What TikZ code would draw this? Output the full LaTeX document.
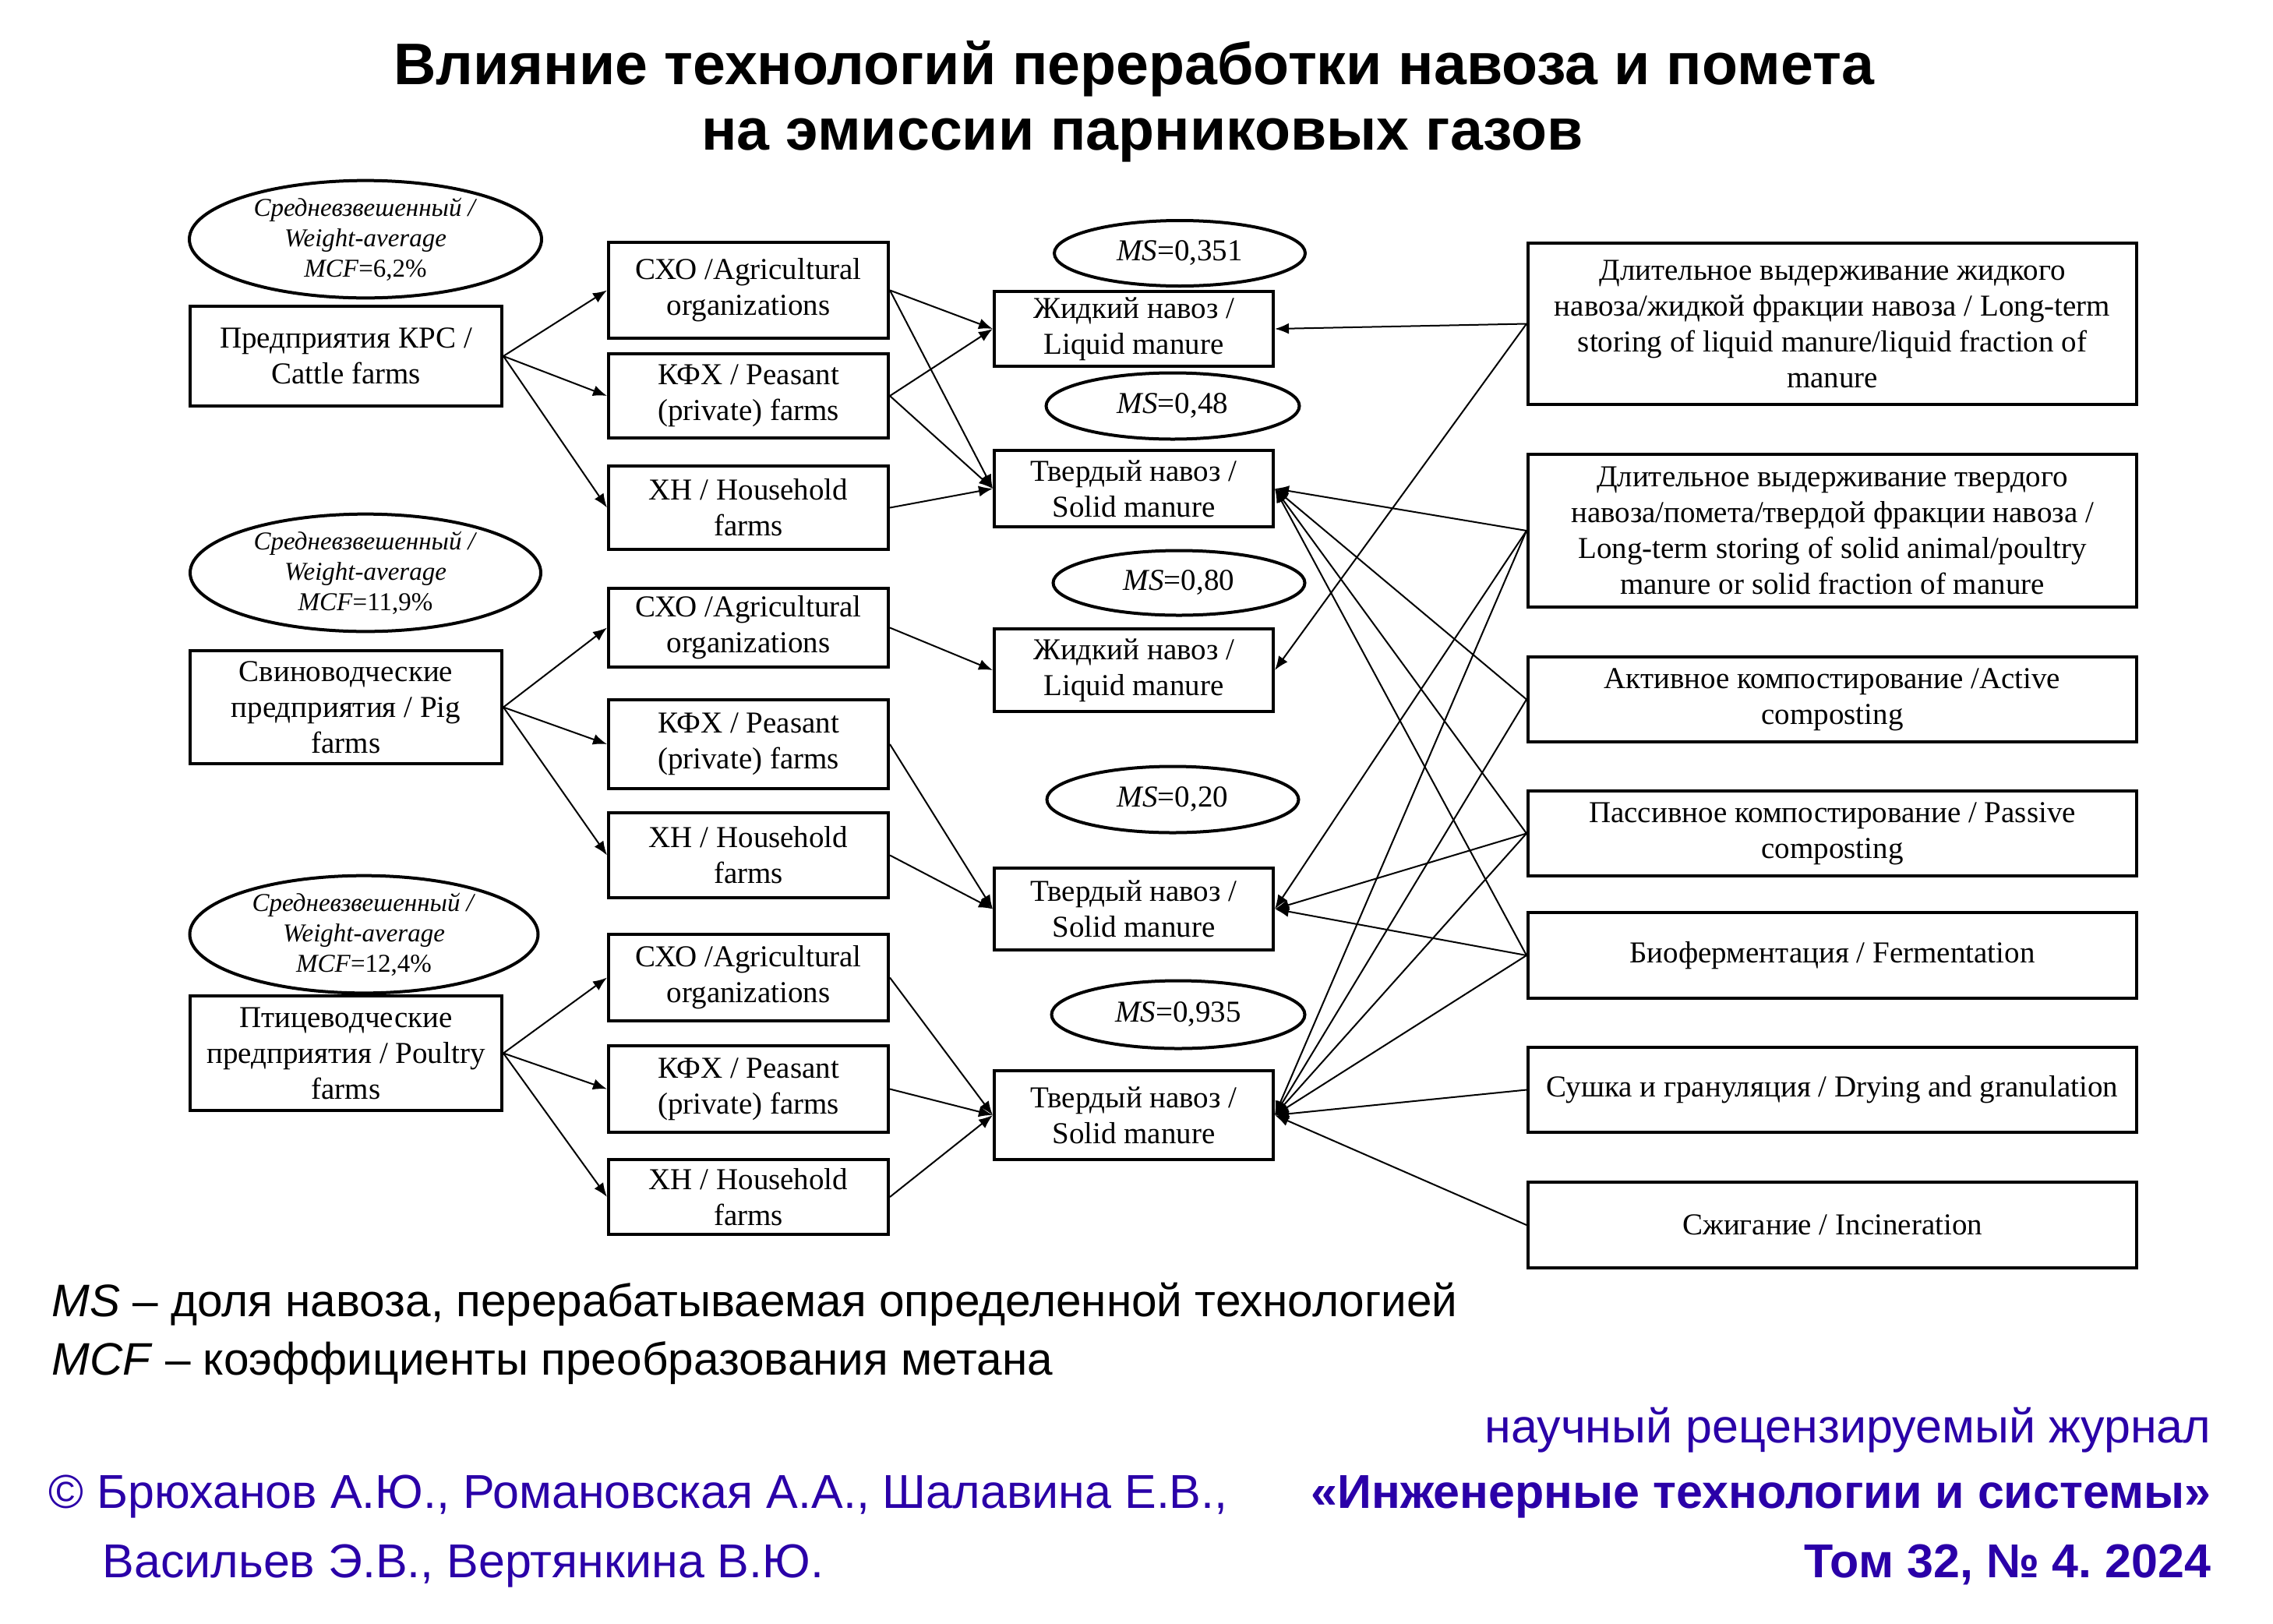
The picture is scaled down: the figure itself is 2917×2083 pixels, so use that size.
\documentclass[tikz,border=0pt]{standalone}
\usepackage{fontspec}
\setmainfont{Liberation Serif}
\newfontfamily\arialf{Liberation Sans}
\usetikzlibrary{arrows.meta,shapes.geometric}
\definecolor{jblue}{RGB}{42,0,168}
\frenchspacing
\begin{document}
\frenchspacing
\begin{tikzpicture}[x=1pt,y=-1pt,
  bx/.style 2 args={draw, line width=4pt, minimum width=#1, minimum height=#2, inner sep=2pt, align=center, font=\fontsize{39}{46}\selectfont},
  ov/.style 2 args={draw, ellipse, line width=4pt, minimum width=#1, minimum height=#2, inner sep=0pt, align=center},
  mcf/.style={font=\fontsize{33}{39}\selectfont},
  msf/.style={font=\fontsize{39}{46}\selectfont},
  arr/.style={line width=2pt, -{Latex[length=18pt,width=14pt]}},
  ttl/.style={anchor=base, font=\arialf\bfseries\fontsize{75.3}{90}\selectfont},
  note/.style={anchor=base west, font=\arialf\fontsize{58.5}{70}\selectfont},
  jr/.style={text=jblue, font=\arialf\fontsize{61}{73}\selectfont},
  jrb/.style={text=jblue, font=\arialf\bfseries\fontsize{61}{73}\selectfont}]
\useasboundingbox (0,0) rectangle (2917,2083);

% Title
\node[ttl] (t1) at (1455,108) {Влияние технологий переработки навоза и помета};
\node[ttl] (t2) at (1466,192) {на эмиссии парниковых газов};

% Left ellipses
\node[ov={452}{139}, mcf] (e1) at (469,307) {\textit{Средневзвешенный /}\\\textit{Weight-average}\\\textit{MCF}=6,2\%};
\node[ov={450}{130}, mcf] (e2) at (469,735) {\textit{Средневзвешенный /}\\\textit{Weight-average}\\\textit{MCF}=11,9\%};
\node[ov={447}{134}, mcf] (e3) at (467,1199) {\textit{Средневзвешенный /}\\\textit{Weight-average}\\\textit{MCF}=12,4\%};

% Left boxes
\node[bx={400}{128}] (cattle) at (444,457) {Предприятия КРС /\\Cattle farms};
\node[bx={400}{145}] (pig) at (444,907.5) {Свиноводческие\\предприятия / Pig\\farms};
\node[bx={400}{147}] (poultry) at (444,1351.5) {Птицеводческие\\предприятия / Poultry\\farms};

% Sub boxes
\node[bx={359}{123}] (sxo1) at (960.5,372.5) {СХО /Agricultural\\organizations};
\node[bx={359}{108}] (kfx1) at (960.5,508) {КФХ / Peasant\\(private) farms};
\node[bx={359}{107}] (xn1) at (960.5,651.5) {ХН / Household\\farms};
\node[bx={359}{101}] (sxo2) at (960.5,805.5) {СХО /Agricultural\\organizations};
\node[bx={359}{114}] (kfx2) at (960.5,955) {КФХ / Peasant\\(private) farms};
\node[bx={359}{109}] (xn2) at (960.5,1097.5) {ХН / Household\\farms};
\node[bx={359}{111}] (sxo3) at (960.5,1254.5) {СХО /Agricultural\\organizations};
\node[bx={359}{111}] (kfx3) at (960.5,1397.5) {КФХ / Peasant\\(private) farms};
\node[bx={359}{96}] (xn3) at (960.5,1536) {ХН / Household\\farms};

% Manure boxes
\node[bx={358}{96}] (liq1) at (1455,422) {Жидкий навоз /\\Liquid manure};
\node[bx={358}{98}] (sol1) at (1455,627) {Твердый навоз /\\Solid manure};
\node[bx={358}{106}] (liq2) at (1455,860) {Жидкий навоз /\\Liquid manure};
\node[bx={358}{105}] (sol2) at (1455,1166.5) {Твердый навоз /\\Solid manure};
\node[bx={358}{114}] (sol3) at (1455,1431) {Твердый навоз /\\Solid manure};

% MS ellipses
\node[ov={322}{84}, msf] (ms1) at (1514,325) {\textit{MS}=0,351};
\node[ov={325}{85}, msf] (ms2) at (1505,521) {\textit{MS}=0,48};
\node[ov={323}{83}, msf] (ms3) at (1513,748) {\textit{MS}=0,80};
\node[ov={323}{85}, msf] (ms4) at (1505,1026) {\textit{MS}=0,20};
\node[ov={325}{87}, msf] (ms5) at (1512,1302) {\textit{MS}=0,935};

% Right boxes
\node[bx={781}{207}] (r1) at (2351.5,415.5) {Длительное выдерживание жидкого\\навоза/жидкой фракции навоза / Long-term\\storing of liquid manure/liquid fraction of\\manure};
\node[bx={781}{196}] (r2) at (2351.5,681) {Длительное выдерживание твердого\\навоза/помета/твердой фракции навоза /\\Long-term storing of solid animal/poultry\\manure or solid fraction of manure};
\node[bx={781}{109}] (r3) at (2351.5,897.5) {Активное компостирование /Active\\composting};
\node[bx={781}{109}] (r4) at (2351.5,1069.5) {Пассивное компостирование / Passive\\composting};
\node[bx={781}{110}] (r5) at (2351.5,1226) {Биоферментация / Fermentation};
\node[bx={781}{109}] (r6) at (2351.5,1398.5) {Сушка и грануляция / Drying and granulation};
\node[bx={781}{110}] (r7) at (2351.5,1572) {Сжигание / Incineration};

% Left arrows
\foreach \s/\a/\b/\c in {cattle/sxo1/kfx1/xn1, pig/sxo2/kfx2/xn2, poultry/sxo3/kfx3/xn3}{
  \draw[arr] (\s.east) -- (\a.west);
  \draw[arr] (\s.east) -- (\b.west);
  \draw[arr] (\s.east) -- (\c.west);
}

% Middle arrows
\draw[arr] (sxo1.east) -- (liq1.west);
\draw[arr] (sxo1.east) -- (sol1.west);
\draw[arr] (kfx1.east) -- (liq1.west);
\draw[arr] (kfx1.east) -- (sol1.west);
\draw[arr] (xn1.east) -- (sol1.west);
\draw[arr] (sxo2.east) -- (liq2.west);
\draw[arr] (kfx2.east) -- (sol2.west);
\draw[arr] (xn2.east) -- (sol2.west);
\draw[arr] (sxo3.east) -- (sol3.west);
\draw[arr] (kfx3.east) -- (sol3.west);
\draw[arr] (xn3.east) -- (sol3.west);

% Right arrows
\draw[arr] (r1.west) -- (liq1.east);
\draw[arr] (r1.west) -- (liq2.east);
\foreach \r in {r2,r3,r4,r5}{\draw[arr] (\r.west) -- (sol1.east);}
\foreach \r in {r2,r4,r5}{\draw[arr] (\r.west) -- (sol2.east);}
\foreach \r in {r2,r3,r4,r5,r6,r7}{\draw[arr] (\r.west) -- (sol3.east);}

% Footer
\node[note] (n1) at (63,1689) {\textit{MS} – доля навоза, перерабатываемая определенной технологией};
\node[note] (n2) at (63,1764) {\textit{MCF} – коэффициенты преобразования метана};
\node[anchor=base east, jr] (j1) at (2841,1851) {научный рецензируемый журнал};
\node[anchor=base east, jrb] (j2) at (2841,1935) {«Инженерные технологии и системы»};
\node[anchor=base east, jrb] (j3) at (2841,2024) {Том 32, № 4. 2024};
\node[anchor=base west, jr] (a1) at (59,1935) {© Брюханов А.Ю., Романовская А.А., Шалавина Е.В.,};
\node[anchor=base west, jr] (a2) at (128,2024) {Васильев Э.В., Вертянкина В.Ю.};
\end{tikzpicture}
\end{document}
